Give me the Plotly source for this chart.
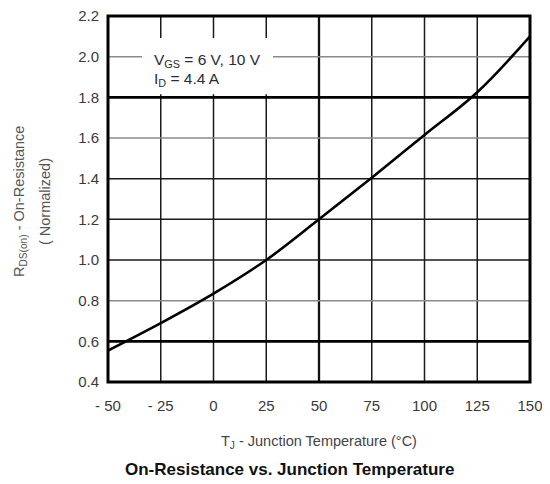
import plotly.graph_objects as go

# Data
temps = [-50, -25, 0, 25, 50, 75, 100, 125, 150]
rds_norm = [0.555, 0.69, 0.835, 1.0, 1.2, 1.405, 1.615, 1.825, 2.1]

x_ticks = [-50, -25, 0, 25, 50, 75, 100, 125, 150]
x_ticktext = ["- 50", "- 25", "0", "25", "50", "75", "100", "125", "150"]
y_ticks = [0.4, 0.6, 0.8, 1.0, 1.2, 1.4, 1.6, 1.8, 2.0, 2.2]
y_ticktext = ["0.4", "0.6", "0.8", "1.0", "1.2", "1.4", "1.6", "1.8", "2.0", "2.2"]

# grid line groups
v_grid_normal = [-25, 0, 25, 75, 100, 125]
v_grid_thick = [50]
h_grid_normal = [1.0, 1.2, 1.4]
h_grid_light = [0.8, 1.6, 2.0]
h_grid_thick = [0.6, 1.8]

FONT = "Liberation Sans, Arial, sans-serif"
TXT = "#3a3a3a"

fig = go.Figure()
fig.add_trace(go.Scatter(
    x=temps, y=rds_norm, mode="lines",
    line=dict(color="black", width=2.6, shape="spline", smoothing=1.0),
    showlegend=False, hoverinfo="skip",
))

shapes = []
for v in v_grid_normal:
    shapes.append(dict(type="line", xref="x", yref="paper", x0=v, x1=v, y0=0, y1=1,
                       line=dict(color="#1a1a1a", width=1.5), layer="below"))
for v in v_grid_thick:
    shapes.append(dict(type="line", xref="x", yref="paper", x0=v, x1=v, y0=0, y1=1,
                       line=dict(color="#111", width=2.3), layer="below"))
for h in h_grid_light:
    shapes.append(dict(type="line", xref="paper", yref="y", x0=0, x1=1, y0=h, y1=h,
                       line=dict(color="#8a8a8a", width=1.5), layer="below"))
for h in h_grid_normal:
    shapes.append(dict(type="line", xref="paper", yref="y", x0=0, x1=1, y0=h, y1=h,
                       line=dict(color="#1a1a1a", width=1.5), layer="below"))
for h in h_grid_thick:
    shapes.append(dict(type="line", xref="paper", yref="y", x0=0, x1=1, y0=h, y1=h,
                       line=dict(color="#000", width=2.6), layer="below"))
# white box behind the condition label
shapes.append(dict(type="rect", xref="paper", yref="paper", x0=0.0806, x1=0.391,
                   y0=0.786, y1=0.940, fillcolor="white", line=dict(width=0), layer="below"))
# plot frame
shapes.append(dict(type="rect", xref="paper", yref="paper", x0=0, x1=1, y0=0, y1=1,
                   line=dict(color="black", width=3), fillcolor="rgba(0,0,0,0)", layer="above"))

def ann(text, x, y, size, xanchor="center", angle=0, color=TXT):
    return dict(text=text, xref="paper", yref="paper", x=x, y=y, xanchor=xanchor,
                yanchor="middle", textangle=angle, showarrow=False, align="left",
                font=dict(family=FONT, size=size, color=color))

annotations = [
    ann("V<sub>GS</sub> = 6 V, 10 V", 0.1036, 0.879, 15.5, xanchor="left", color="#2b2b3b"),
    ann("I<sub>D</sub> = 4.4 A", 0.1036, 0.826, 15.5, xanchor="left", color="#2b2b3b"),
    ann("R<sub>DS(on)</sub> - On-Resistance", -0.2085, 0.492, 14.5, angle=-90, color="#555"),
    ann("( Normalized)", -0.149, 0.492, 14.5, angle=-90, color="#555"),
    ann("T<sub>J</sub> - Junction Temperature (°C)", 0.5, -0.164, 14.5, color="#444"),
    ann("<b>On-Resistance vs. Junction Temperature</b>", 0.429, -0.240, 17, color="#111"),
]

fig.update_layout(
    width=542, height=476,
    margin=dict(l=100, r=20, t=8, b=102),
    paper_bgcolor="white", plot_bgcolor="white",
    font=dict(family=FONT, color=TXT),
    shapes=shapes, annotations=annotations,
    xaxis=dict(range=[-50, 150], tickvals=x_ticks, ticktext=x_ticktext, showgrid=False,
               zeroline=False, showline=False, ticks="", ticklabelstandoff=13,
               ticklabeloverflow="allow", automargin=False,
               tickfont=dict(family=FONT, size=15, color=TXT)),
    yaxis=dict(range=[0.4, 2.2], tickvals=y_ticks, ticktext=y_ticktext, showgrid=False,
               zeroline=False, showline=False, ticks="", ticklabelstandoff=8,
               ticklabeloverflow="allow", automargin=False,
               tickfont=dict(family=FONT, size=15, color=TXT)),
)

fig.write_html("out.html")
